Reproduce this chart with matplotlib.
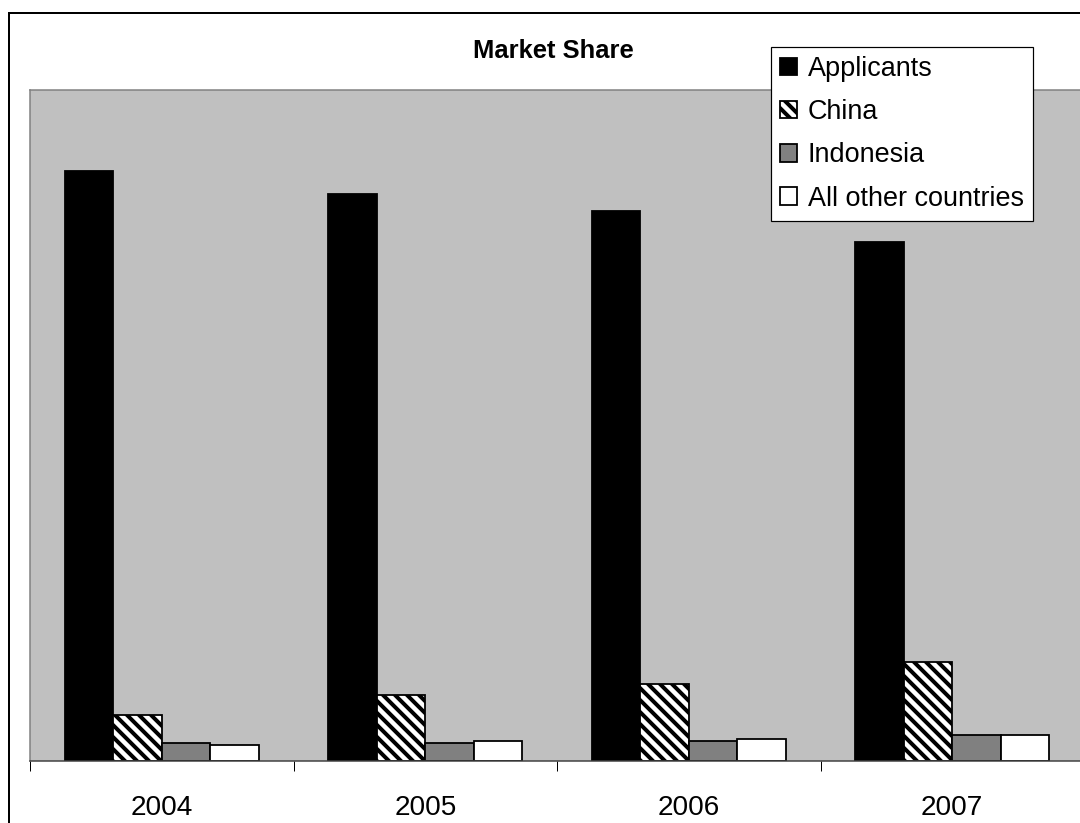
import matplotlib
matplotlib.use("Agg")
import matplotlib.pyplot as plt
import numpy as np
from matplotlib.patches import Rectangle

plt.rcParams['font.family'] = ['Liberation Sans', 'DejaVu Sans']
plt.rcParams['hatch.linewidth'] = 4.0
plt.rcParams['hatch.color'] = 'black'

# market share in percent per year
years = ['2004', '2005', '2006', '2007']
applicants = [87.9, 84.5, 82.0, 77.3]
china = [6.9, 9.8, 11.5, 14.8]
indonesia = [2.7, 2.7, 3.0, 3.9]
other = [2.4, 3.0, 3.3, 3.9]

series = [
    ('Applicants', applicants, dict(color='black')),
    ('China', china, dict(color='white', hatch='\\\\')),
    ('Indonesia', indonesia, dict(color='#808080')),
    ('All other countries', other, dict(color='white')),
]

W, H = 1080, 823
fig = plt.figure(figsize=(W / 72, H / 72), dpi=72)

# chart area border
fig.patches.append(Rectangle((9 / W, -0.05), 1.2, 1 - 13 / H + 0.05, transform=fig.transFigure,
                             fill=False, edgecolor='black', linewidth=2, zorder=0))

ax = fig.add_axes([30 / W, 1 - 761 / H, 1054 / W, (761 - 90) / H])
ax.set_facecolor('#C0C0C0')

x = np.arange(len(years))
bw = 0.184
start = 0.5 - 2 * bw
for i, (name, vals, style) in enumerate(series):
    ax.bar(x + start + i * bw, vals, width=bw, align='edge', edgecolor='black',
           linewidth=1.8, label=name, **style)

ax.set_xlim(0, len(years))
ax.set_ylim(0, 100)
ax.set_yticks([])

ax.set_xticks(np.arange(len(years) + 1))
ax.set_xticklabels([])
ax.set_xticks(x + 0.5, minor=True)
ax.set_xticklabels(years, minor=True, fontsize=28)
ax.tick_params(axis='x', which='major', length=10, width=1, color='black', direction='out')
ax.tick_params(axis='x', which='minor', length=0, pad=34)

for s in ['top', 'left', 'right']:
    ax.spines[s].set_color('#808080')
    ax.spines[s].set_linewidth(1.5)
ax.spines['bottom'].set_color('#404040')
ax.spines['bottom'].set_linewidth(1.5)

fig.text(553 / W, 1 - 51 / H, 'Market Share', ha='center', va='center',
         fontsize=25.5, fontweight='bold')

leg = fig.legend(loc='upper left', bbox_to_anchor=(771 / W, 1 - 46.7 / H), fontsize=27,
                 frameon=True, fancybox=False, shadow=False, framealpha=1,
                 edgecolor='black', handlelength=0.63, handleheight=0.63,
                 handletextpad=0.4, labelspacing=0.64, borderpad=0.34, borderaxespad=0)
leg.get_frame().set_linewidth(1.2)

fig.savefig('out.png', dpi=72)
